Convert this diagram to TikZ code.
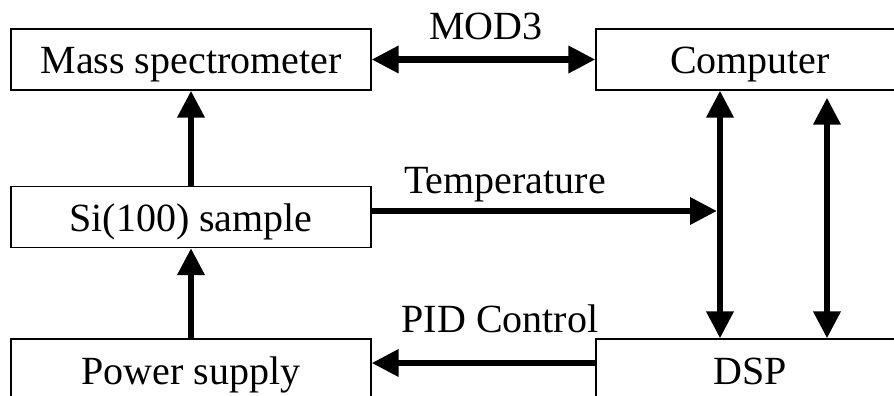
\documentclass[tikz,border=0pt]{standalone}
\usepackage{fontspec}
\setmainfont{Liberation Serif}
\usetikzlibrary{arrows.meta, positioning, calc}

\begin{document}
\begin{tikzpicture}[x=1pt, y=-1pt,
          block/.style={rectangle, draw=black, line width=1.2pt, fill=white,
                        minimum height=61pt, inner sep=0pt,
                        font=\fontsize{40}{44}\selectfont,
                        text height=32pt, text depth=3pt},
          leftblk/.style={block, minimum width=360pt},
          rightblk/.style={block, minimum width=308pt},
          arr/.style={-{Triangle[length=27pt, width=26pt]}, line width=6.5pt},
          dblarr/.style={{Triangle[length=27pt, width=26pt]}-{Triangle[length=27pt, width=26pt]},
                         line width=6.5pt},
          lbl/.style={font=\fontsize{40}{44}\selectfont, anchor=base}
        ]
        \useasboundingbox (0,0) rectangle (894,396);
        \clip (0,0) rectangle (894,396);

        % Left column
        \node[leftblk] (ms) at (191, 59.5)  {Mass spectrometer};
        \node[leftblk] (si) at (191, 217)   {Si(100) sample};
        \node[leftblk] (ps) at (191, 369.5) {Power supply};

        % Right column
        \node[rightblk] (pc)  at (750, 59.5)  {Computer};
        \node[rightblk] (dsp) at (750, 369.5) {DSP};

        % Bus lines
        \coordinate (busA) at (720, 0);
        \coordinate (busB) at (827, 0);
        \coordinate (busBtop) at ($(pc.south -| busB)+(0,7)$);
        \coordinate (tout) at ($(si.east)+(0,-6)$);
        \coordinate (pidout) at ($(dsp.west)+(0,-6.5)$);

        % Arrows
        \draw[dblarr] (ms.east) -- (pc.west);
        \draw[arr] (si) -- (ms);
        \draw[arr] (ps) -- (si);
        \draw[dblarr] (pc.south -| busA) -- (dsp.north -| busA);
        \draw[dblarr] (busBtop) -- (dsp.north -| busB);
        \draw[arr, shorten >=3pt] (tout) -- (tout -| busA);
        \draw[arr] (pidout) -- (pidout -| ps.east);

        % Labels
        \node[lbl] (modlbl)  at (486, 40)  {MOD3};
        \node[lbl] (templbl) at (505, 193) {Temperature};
        \node[lbl] (pidlbl)  at (500, 332) {PID Control};
\end{tikzpicture}
\end{document}
